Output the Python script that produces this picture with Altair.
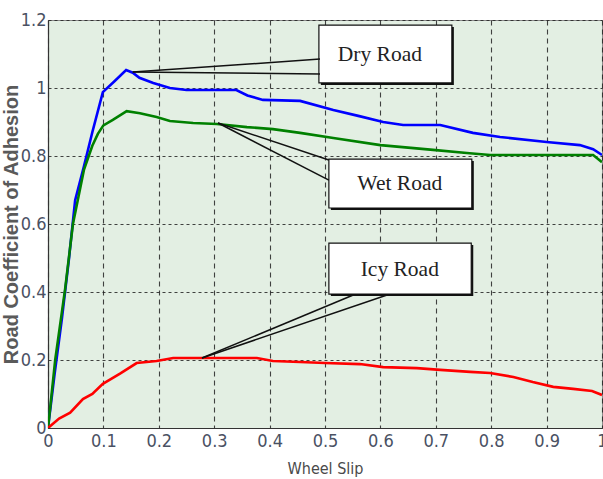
import altair as alt
import pandas as pd

# ---------------- data ----------------
slip_dry = [0, 0.012, 0.025, 0.038, 0.049, 0.065, 0.08, 0.099, 0.12, 0.141, 0.153, 0.165,
            0.19, 0.22, 0.25, 0.34, 0.36, 0.388, 0.455, 0.515, 0.56, 0.605, 0.641, 0.708,
            0.767, 0.816, 0.9, 0.96, 0.984, 1.0]
mu_dry = [0, 0.16, 0.32, 0.5, 0.67, 0.77, 0.87, 0.988, 1.02, 1.053, 1.045, 1.03,
          1.015, 1.0, 0.994, 0.994, 0.978, 0.965, 0.962, 0.935, 0.918, 0.90, 0.891, 0.891,
          0.868, 0.856, 0.841, 0.832, 0.82, 0.803]

slip_wet = [0, 0.004, 0.013, 0.031, 0.045, 0.055, 0.065, 0.08, 0.09, 0.1, 0.117, 0.142,
            0.166, 0.196, 0.22, 0.262, 0.305, 0.359, 0.406, 0.455, 0.515, 0.6, 0.695,
            0.756, 0.798, 0.984, 1.0]
mu_wet = [0, 0.06, 0.2, 0.41, 0.6, 0.68, 0.76, 0.83, 0.865, 0.89, 0.906, 0.932,
          0.926, 0.915, 0.903, 0.897, 0.894, 0.885, 0.879, 0.868, 0.853, 0.832, 0.818,
          0.809, 0.803, 0.803, 0.782]

slip_icy = [0, 0.02, 0.04, 0.063, 0.08, 0.099, 0.13, 0.16, 0.196, 0.226, 0.30, 0.377,
            0.406, 0.455, 0.5, 0.563, 0.605, 0.666, 0.708, 0.762, 0.798, 0.84, 0.875,
            0.912, 0.948, 0.982, 1.0]
mu_icy = [0, 0.028, 0.045, 0.085, 0.1, 0.13, 0.16, 0.191, 0.197, 0.206, 0.206, 0.206,
          0.197, 0.194, 0.191, 0.188, 0.179, 0.176, 0.171, 0.165, 0.162, 0.15, 0.135,
          0.121, 0.115, 0.109, 0.097]

series_names = ["Dry Road", "Wet Road", "Icy Road"]
series_colors = ["#0000ff", "#008000", "#ff0000"]

x_ticks = [0, 0.1, 0.2, 0.3, 0.4, 0.5, 0.6, 0.7, 0.8, 0.9, 1.0]
y_ticks = [0, 0.2, 0.4, 0.6, 0.8, 1.0, 1.2]

# callout boxes (data units): x0, x1, y0, y1
box_x0 = [0.489, 0.507, 0.507]
box_x1 = [0.729, 0.765, 0.764]
box_y0 = [1.015, 0.647, 0.394]
box_y1 = [1.185, 0.791, 0.544]
label_x = [0.599, 0.635, 0.635]
label_y = [1.097, 0.718, 0.465]

# callout wedges: tip and two base points (data units)
tip_x = [0.153, 0.307, 0.278]
tip_y = [1.047, 0.897, 0.206]
base1_x = [0.491, 0.507, 0.551]
base1_y = [1.085, 0.788, 0.391]
base2_x = [0.491, 0.507, 0.612]
base2_y = [1.041, 0.729, 0.391]

# ---------------- build tables ----------------
rows = []
for name, xs, ys in zip(series_names, [slip_dry, slip_wet, slip_icy], [mu_dry, mu_wet, mu_icy]):
    for i, (a, b) in enumerate(zip(xs, ys)):
        rows.append({"series": name, "slip": a, "mu": b, "i": i})
curves = pd.DataFrame(rows)

boxes = pd.DataFrame({"x0": box_x0, "x1": box_x1, "y0": box_y0, "y1": box_y1,
                      "lx": label_x, "ly": label_y, "label": series_names})

area_rows = []
line_rows = []
for k in range(3):
    A = (tip_x[k], tip_y[k])
    B = (base1_x[k], base1_y[k])
    C = (base2_x[k], base2_y[k])
    pts = sorted([A, B, C], key=lambda p: p[0])
    p0, p1, p2 = pts
    if abs(p1[0] - p2[0]) < 1e-9:
        area_rows.append({"w": k, "ax": p0[0], "ay": p0[1], "ay2": p0[1]})
        area_rows.append({"w": k, "ax": p1[0], "ay": p1[1], "ay2": p2[1]})
    else:
        t = (p1[0] - p0[0]) / (p2[0] - p0[0])
        yi = p0[1] + t * (p2[1] - p0[1])
        area_rows.append({"w": k, "ax": p0[0], "ay": p0[1], "ay2": p0[1]})
        area_rows.append({"w": k, "ax": p1[0], "ay": p1[1], "ay2": yi})
        area_rows.append({"w": k, "ax": p2[0], "ay": p2[1], "ay2": p2[1]})
    for j, (bx, by) in enumerate([B, C]):
        line_rows.append({"l": f"{k}-{j}", "o": 0, "lx": A[0], "ly": A[1]})
        line_rows.append({"l": f"{k}-{j}", "o": 1, "lx": bx, "ly": by})
wedge_area = pd.DataFrame(area_rows)
wedge_lines = pd.DataFrame(line_rows)

xscale = alt.Scale(domain=[0, 1], nice=False, zero=False)
yscale = alt.Scale(domain=[0, 1.2], nice=False, zero=False)

tick_font = "Liberation Sans Narrow, DejaVu Sans Condensed, Arial Narrow, sans-serif"

x_axis = alt.Axis(values=x_ticks, format="~g", title="Wheel Slip", grid=True,
                  gridDash=[5, 4], gridColor="#222222", gridWidth=1.1, gridOpacity=0.85,
                  tickSize=0, labelPadding=4, labelFont=tick_font, labelFontSize=18,
                  labelColor="#4a5163", titleFont=tick_font, titleFontSize=16,
                  titleFontWeight="normal", titleColor="#4a4a4a", titleY=45,
                  titleBaseline="alphabetic", domainColor="#333333", domainWidth=1.2,
                  labelFlush=False)
y_axis = alt.Axis(values=y_ticks, format="~g", title="Road Coefficient of Adhesion", grid=True,
                  gridDash=[3, 3], gridColor="#222222", gridWidth=1.1, gridOpacity=0.85,
                  tickSize=0, labelPadding=2, labelFont=tick_font, labelFontSize=18,
                  labelColor="#4a5163", titleFont="Liberation Sans, Arial, sans-serif",
                  titleFontSize=20, titleFontWeight="bold", titleColor="#5a5a5a",
                  titleX=-37, titleBaseline="middle", domainColor="#333333",
                  domainWidth=1.2, labelFlush=False)


def X(f):
    return alt.X(f, scale=xscale, axis=x_axis, title="Wheel Slip")


def Y(f, **kw):
    return alt.Y(f, scale=yscale, axis=y_axis, title="Road Coefficient of Adhesion", **kw)


lines = alt.Chart(curves).mark_line(strokeWidth=2.6, clip=True).encode(
    x=X("slip:Q"),
    y=Y("mu:Q"),
    color=alt.Color("series:N", scale=alt.Scale(domain=series_names, range=series_colors),
                    legend=None),
    order="i:O",
)

shadow = alt.Chart(boxes).mark_rect(fill="#111111", xOffset=2, x2Offset=2,
                                    yOffset=2, y2Offset=2).encode(
    x=X("x0:Q"), x2="x1:Q", y=Y("y0:Q"), y2="y1:Q")

box = alt.Chart(boxes).mark_rect(fill="white", stroke="#111111", strokeWidth=1.2).encode(
    x=X("x0:Q"), x2="x1:Q", y=Y("y0:Q"), y2="y1:Q")

warea = alt.Chart(wedge_area).mark_area(fill="white", opacity=1).encode(
    x=X("ax:Q"), y=Y("ay:Q", stack=None), y2="ay2:Q",
    detail="w:N", order="ax:Q")

wlines = alt.Chart(wedge_lines).mark_line(color="#111111", strokeWidth=1.5).encode(
    x=X("lx:Q"), y=Y("ly:Q"), detail="l:N", order="o:O")

texts = alt.Chart(boxes).mark_text(font="Liberation Serif, Times New Roman, serif",
                                   fontSize=21.5, color="#222222", align="center",
                                   baseline="middle").encode(
    x=X("lx:Q"), y=Y("ly:Q"), text="label:N")

chart = alt.layer(lines, shadow, box, warea, wlines, texts).properties(
    width=554, height=408,
    padding={"left": 48, "top": 20, "right": 1, "bottom": 51},
    autosize=alt.AutoSizeParams(type="none"),
    background="white",
).configure_view(fill="#e3efe3", stroke="#8a8a8a", strokeWidth=1)

chart.save("out.html", embed_options={"renderer": "svg", "actions": False})
